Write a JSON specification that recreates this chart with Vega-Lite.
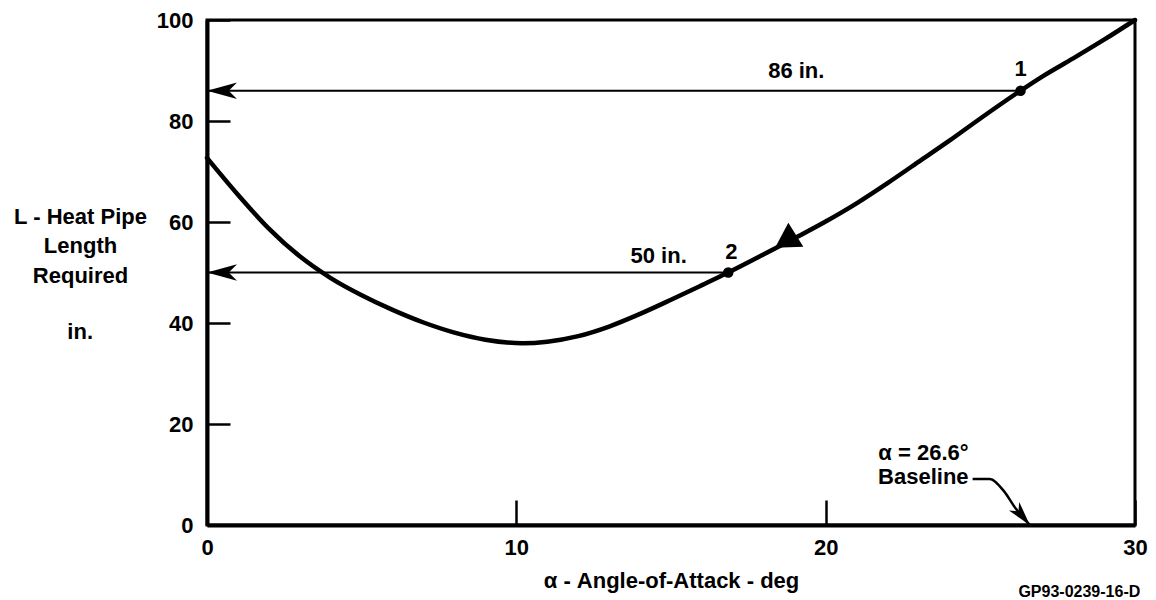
{
  "$schema": "https://vega.github.io/schema/vega-lite/v6.json",
  "width": 928,
  "height": 505,
  "autosize": {"type": "none"},
  "padding": {"left": 207, "top": 20, "right": 21, "bottom": 75},
  "background": "white",
  "config": {
    "view": {"stroke": "black", "strokeWidth": 3},
    "font": "Liberation Sans",
    "axis": {
      "grid": false,
      "domainColor": "black",
      "domainWidth": 4,
      "tickColor": "black",
      "tickWidth": 2.5,
      "labelColor": "black",
      "labelFont": "Liberation Sans",
      "labelFontSize": 22,
      "labelFontWeight": "bold",
      "labelFlush": false,
      "labelOverlap": false,
      "labelBound": false,
      "titleColor": "black",
      "titleFont": "Liberation Sans",
      "titleFontSize": 22,
      "titleFontWeight": "bold"
    },
    "text": {"font": "Liberation Sans", "fontSize": 22, "fontWeight": "bold", "color": "black"}
  },
  "datasets": {
    "curve": [
      {"alpha": 0, "L": 72.7},
      {"alpha": 1, "L": 65.4},
      {"alpha": 2, "L": 58.7},
      {"alpha": 3, "L": 53.2},
      {"alpha": 4, "L": 48.9},
      {"alpha": 5, "L": 45.5},
      {"alpha": 6, "L": 42.6},
      {"alpha": 7, "L": 40.1},
      {"alpha": 8, "L": 38.1},
      {"alpha": 9, "L": 36.7},
      {"alpha": 10.2, "L": 36.0},
      {"alpha": 11, "L": 36.3},
      {"alpha": 12, "L": 37.4},
      {"alpha": 13, "L": 39.3},
      {"alpha": 14, "L": 41.8},
      {"alpha": 15, "L": 44.6},
      {"alpha": 16, "L": 47.5},
      {"alpha": 16.85, "L": 50},
      {"alpha": 18, "L": 53.6},
      {"alpha": 19, "L": 56.8},
      {"alpha": 20, "L": 60.1},
      {"alpha": 21, "L": 63.7},
      {"alpha": 22, "L": 67.7},
      {"alpha": 23, "L": 71.9},
      {"alpha": 24, "L": 76.1},
      {"alpha": 25, "L": 80.5},
      {"alpha": 26.3, "L": 86},
      {"alpha": 27, "L": 88.8},
      {"alpha": 28, "L": 92.4},
      {"alpha": 29, "L": 96.1},
      {"alpha": 30, "L": 100}
    ],
    "readouts": [
      {"point": "1", "alpha": 26.3, "L": 86},
      {"point": "2", "alpha": 16.85, "L": 50}
    ],
    "notes": [
      {"alpha": 19.05, "L": 90, "text": "86 in."},
      {"alpha": 26.3, "L": 90.3, "text": "1"},
      {"alpha": 14.6, "L": 53.3, "text": "50 in."},
      {"alpha": 16.95, "L": 54, "text": "2"}
    ],
    "unitNote": [{"alpha": -4.1, "L": 38.2, "text": "in."}],
    "baselineNote": [
      {"alpha": 24.62, "L": 14.3, "text": "α = 26.6°"},
      {"alpha": 24.62, "L": 9.5, "text": "Baseline"}
    ],
    "baselineLeader": [
      {"alpha": 24.75, "L": 9.1},
      {"alpha": 25.3, "L": 9.1},
      {"alpha": 25.75, "L": 6.8},
      {"alpha": 26.15, "L": 3.2},
      {"alpha": 26.6, "L": 0}
    ],
    "baselineTip": [{"alpha": 26.6, "L": 0}],
    "direction": [{"alpha": 18.7, "L": 56.2}],
    "figureId": [{"alpha": 30.17, "L": -13.3, "text": "GP93-0239-16-D"}]
  },
  "encoding": {
    "x": {
      "field": "alpha",
      "type": "quantitative",
      "scale": {"domain": [0, 30], "nice": false, "zero": false},
      "axis": {
        "values": [0, 10, 20, 30],
        "tickSize": -25,
        "labelPadding": 37,
        "title": "α - Angle-of-Attack - deg",
        "titleY": 55,
        "titleBaseline": "middle"
      }
    },
    "y": {
      "field": "L",
      "type": "quantitative",
      "scale": {"domain": [0, 100], "nice": false, "zero": false},
      "axis": {
        "values": [0, 20, 40, 60, 80, 100],
        "tickSize": -23,
        "labelPadding": 37,
        "title": ["L - Heat Pipe", "Length", "Required"],
        "titleAngle": 0,
        "titleAlign": "center",
        "titleBaseline": "alphabetic",
        "titleX": -127,
        "titleY": 203,
        "titleLineHeight": 29.5
      }
    }
  },
  "layer": [
    {
      "data": {"name": "curve"},
      "mark": {"type": "line", "interpolate": "monotone", "color": "black", "strokeWidth": 4.5, "strokeCap": "round"}
    },
    {
      "data": {"name": "readouts"},
      "mark": {"type": "rule", "color": "black", "strokeWidth": 2},
      "encoding": {"x": {"datum": 0}, "x2": {"field": "alpha"}}
    },
    {
      "data": {"name": "readouts"},
      "mark": {"type": "point", "shape": "M0,0L0.55,2L0,1.45L-0.55,2Z", "size": 900, "angle": 270, "filled": true, "color": "black", "opacity": 1},
      "encoding": {"x": {"datum": 0}}
    },
    {
      "data": {"name": "readouts"},
      "mark": {"type": "point", "shape": "circle", "size": 110, "filled": true, "color": "black", "opacity": 1}
    },
    {
      "data": {"name": "direction"},
      "mark": {"type": "point", "shape": "triangle-up", "size": 800, "angle": 238, "filled": true, "color": "black", "opacity": 1}
    },
    {
      "data": {"name": "notes"},
      "mark": {"type": "text", "align": "center", "baseline": "middle"},
      "encoding": {"text": {"field": "text"}}
    },
    {
      "data": {"name": "unitNote"},
      "mark": {"type": "text", "align": "center", "baseline": "middle"},
      "encoding": {"text": {"field": "text"}}
    },
    {
      "data": {"name": "baselineNote"},
      "mark": {"type": "text", "align": "right", "baseline": "middle"},
      "encoding": {"text": {"field": "text"}}
    },
    {
      "data": {"name": "baselineLeader"},
      "mark": {"type": "line", "interpolate": "monotone", "color": "black", "strokeWidth": 2.5}
    },
    {
      "data": {"name": "baselineTip"},
      "mark": {"type": "point", "shape": "M0,0L0.55,2L0,1.45L-0.55,2Z", "size": 600, "angle": 140, "filled": true, "color": "black", "opacity": 1}
    },
    {
      "data": {"name": "figureId"},
      "mark": {"type": "text", "align": "right", "baseline": "middle", "fontSize": 16},
      "encoding": {"text": {"field": "text"}}
    }
  ]
}
